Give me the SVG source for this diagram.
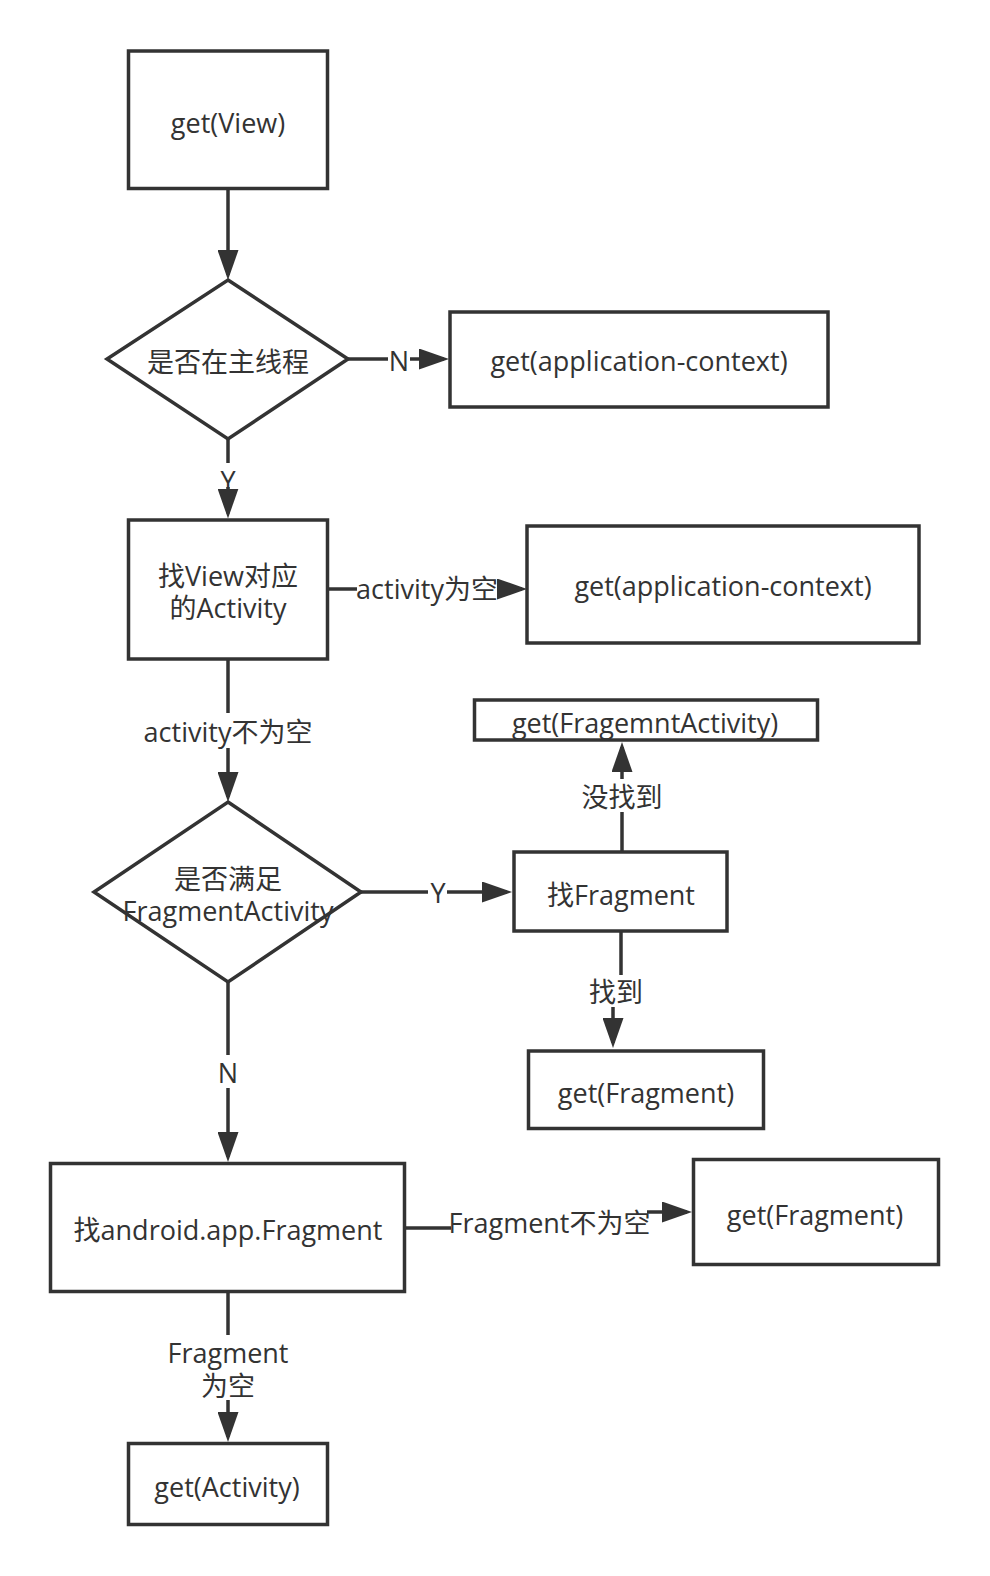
<svg xmlns="http://www.w3.org/2000/svg" width="990" height="1576" viewBox="0 0 990 1576">
<style>
.n{fill:#fff;stroke:#333;stroke-width:3.5}
.c{fill:none;stroke:#333;stroke-width:3.5}
.t{font-family:"Open Sans","Noto Sans CJK SC",sans-serif;font-size:27px;fill:#333;text-anchor:middle}
.bg{fill:#fff}
</style>
<defs>
<marker id="arr" markerUnits="userSpaceOnUse" markerWidth="30" markerHeight="21" refX="25" refY="10.5" orient="auto">
<path d="M0,0 L30,10.5 L0,21 Z" fill="#333"/>
</marker>
</defs>
<rect width="990" height="1576" fill="#fff"/>
<g id="connectors">
<path class="c" d="M228 189 V275" marker-end="url(#arr)"/>
<path class="c" d="M348 359 H444" marker-end="url(#arr)"/>
<path class="c" d="M228 439 V513.5" marker-end="url(#arr)"/>
<path class="c" d="M328 589 H522" marker-end="url(#arr)"/>
<path class="c" d="M228 659 V797" marker-end="url(#arr)"/>
<path class="c" d="M361 892 H507" marker-end="url(#arr)"/>
<path class="c" d="M622 852 V747" marker-end="url(#arr)"/>
<path class="c" d="M621 932 V991 H613 V1043" marker-end="url(#arr)"/>
<path class="c" d="M228 982 V1157" marker-end="url(#arr)"/>
<path class="c" d="M406 1228 H550 V1212 H687" marker-end="url(#arr)"/>
<path class="c" d="M228 1293 V1437" marker-end="url(#arr)"/>
<g id="labels">
<rect class="bg" x="388" y="347" width="22" height="26"/>
<text class="t" x="399" y="371">N</text>
<rect class="bg" x="216" y="463" width="24" height="24"/>
<text class="t" x="228" y="491">Y</text>
<rect class="bg" x="357" y="576" width="140" height="28"/>
<text class="t" x="427" y="599">activity为空</text>
<rect class="bg" x="144" y="713" width="168" height="35"/>
<text class="t" x="228" y="742">activity不为空</text>
<rect class="bg" x="428" y="880" width="19" height="25"/>
<text class="t" x="438" y="903">Y</text>
<rect class="bg" x="582" y="779" width="79" height="33"/>
<text class="t" x="622" y="807">没找到</text>
<rect class="bg" x="589" y="975" width="54" height="32"/>
<text class="t" x="616" y="1002">找到</text>
<rect class="bg" x="215" y="1055" width="26" height="33"/>
<text class="t" x="228" y="1083">N</text>
<rect class="bg" x="451" y="1204" width="196" height="36"/>
<text class="t" x="549.5" y="1233">Fragment不为空</text>
<rect class="bg" x="166" y="1335" width="123" height="65"/>
<text class="t" x="228" y="1363">Fragment</text>
<text class="t" x="228" y="1396">为空</text>
</g>
</g>
<g id="getView">
<rect class="n" x="128.5" y="51" width="199" height="137.5"/>
<text class="t" x="228" y="133">get(View)</text>
</g>
<g id="isMainThread">
<polygon class="n" points="228,280 348,359 228,439 107,359"/>
<text class="t" x="228" y="372">是否在主线程</text>
</g>
<g id="getAppContext1">
<rect class="n" x="450" y="312" width="378" height="95"/>
<text class="t" x="639" y="371">get(application-context)</text>
</g>
<g id="findActivity">
<rect class="n" x="128.5" y="520" width="199" height="139"/>
<text class="t" x="228" y="586">找View对应</text>
<text class="t" x="228" y="618">的Activity</text>
</g>
<g id="getAppContext2">
<rect class="n" x="527" y="526" width="392" height="117"/>
<text class="t" x="723" y="596">get(application-context)</text>
</g>
<g id="isFragmentActivity">
<polygon class="n" points="228,802 361,892 228,982 94,892"/>
<text class="t" x="228" y="889">是否满足</text>
<text class="t" x="228" y="921">FragmentActivity</text>
</g>
<g id="getFragmentActivity">
<rect class="n" x="474.5" y="700" width="343" height="40"/>
<text class="t" x="645" y="733">get(FragemntActivity)</text>
</g>
<g id="findFragment">
<rect class="n" x="514" y="852" width="213" height="79"/>
<text class="t" x="621" y="905">找Fragment</text>
</g>
<g id="getFragment1">
<rect class="n" x="528.5" y="1051" width="235" height="77.5"/>
<text class="t" x="646" y="1103">get(Fragment)</text>
</g>
<g id="findAppFragment">
<rect class="n" x="50.5" y="1163.5" width="354" height="128"/>
<text class="t" x="228" y="1240">找android.app.Fragment</text>
</g>
<g id="getFragment2">
<rect class="n" x="693.5" y="1159.5" width="245" height="105"/>
<text class="t" x="815" y="1225">get(Fragment)</text>
</g>
<g id="getActivity">
<rect class="n" x="128.5" y="1443.5" width="199" height="81"/>
<text class="t" x="227" y="1497">get(Activity)</text>
</g>
</svg>
